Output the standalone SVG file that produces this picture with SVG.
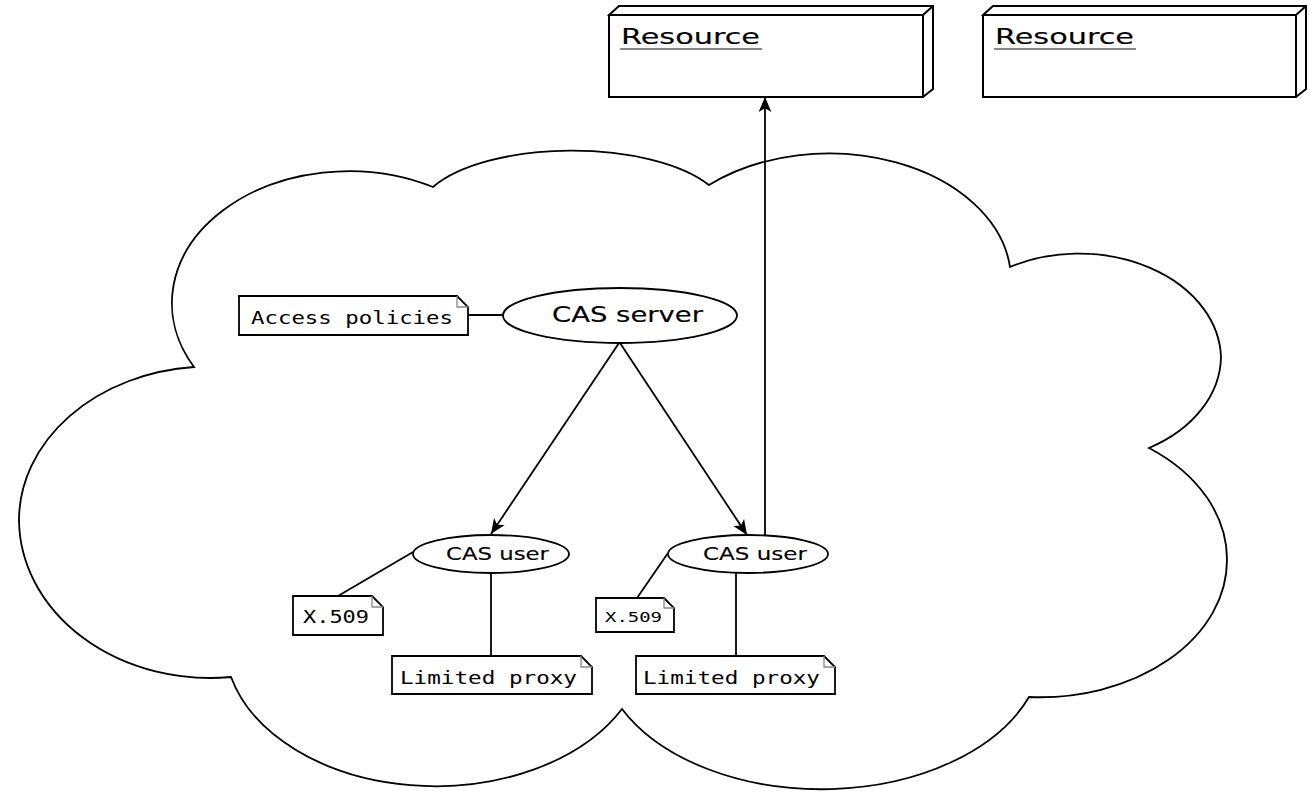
<svg xmlns="http://www.w3.org/2000/svg" width="1310" height="795" viewBox="0 0 1310 795">
<style>
.ln{fill:none;stroke:#000;stroke-width:1.8}
.box{fill:#fff;stroke:#000;stroke-width:2}
.note{fill:#fff;stroke:#000;stroke-width:1.8}
.fold{fill:none;stroke:#888;stroke-width:1.3}
.ell{fill:#fff;stroke:#000;stroke-width:1.8}
.sans{font-family:"DejaVu Sans","Liberation Sans",sans-serif;fill:#000;stroke:#000;stroke-width:0.15}
.mono{font-family:"DejaVu Sans Mono","Liberation Mono",monospace;fill:#000}
.ul{stroke:#888;stroke-width:2}
</style>
<defs>
<marker id="arr" viewBox="0 0 14 12" refX="14" refY="6" markerWidth="15" markerHeight="13" markerUnits="userSpaceOnUse" orient="auto">
<path d="M0,0 L14,6 L0,12 L3.5,6 z" fill="#000"/>
</marker>
</defs>
<rect width="1310" height="795" fill="#fff"/>
<g id="cloud">
<path class="ln" fill="#fff" d="M 194 367 A 177 132 0 0 1 433 187 A 155 65 0 0 1 709 185 A 182 127 0 0 1 1010 267 A 142 106 0 0 1 1221 357 A 142 106 0 0 1 1149 448 A 187 137 0 0 1 1227 560 A 187 137 0 0 1 1029 697 A 222 143 0 0 1 622 709 A 211 145 0 0 1 231 677 A 191 159 0 0 1 19 520 A 191 154 0 0 1 194 367 Z"/>
</g>
<g id="resource1">
<path class="box" d="M609 15 L619 6 L933 6 L933 89 L923 97 Z"/>
<path class="box" fill="none" d="M923 15 L933 6"/>
<rect class="box" x="609" y="15" width="314" height="82"/>
<text class="sans" x="621" y="44" font-size="22" textLength="139" lengthAdjust="spacingAndGlyphs">Resource</text>
<line class="ul" x1="620" y1="49" x2="762" y2="49"/>
</g>
<g id="resource2">
<path class="box" d="M983 15 L993 6 L1306 6 L1306 89 L1296 97 Z"/>
<path class="box" fill="none" d="M1296 15 L1306 6"/>
<rect class="box" x="983" y="15" width="313" height="82"/>
<text class="sans" x="995" y="44" font-size="22" textLength="139" lengthAdjust="spacingAndGlyphs">Resource</text>
<line class="ul" x1="994" y1="49" x2="1136" y2="49"/>
</g>
<g id="connectors">
<line class="ln" x1="468" y1="315" x2="503" y2="315"/>
<line class="ln" x1="619" y1="343" x2="491" y2="534" marker-end="url(#arr)"/>
<line class="ln" x1="620" y1="343" x2="747" y2="535" marker-end="url(#arr)"/>
<line class="ln" x1="765" y1="536" x2="765" y2="97" marker-end="url(#arr)"/>
<line class="ln" x1="338" y1="596" x2="413" y2="552"/>
<line class="ln" x1="491" y1="573" x2="491" y2="656"/>
<line class="ln" x1="637" y1="598" x2="668" y2="553"/>
<line class="ln" x1="736" y1="573" x2="736" y2="656"/>
</g>
<g id="cas-server">
<ellipse class="ell" cx="620" cy="315.5" rx="117" ry="27.5"/>
<text class="sans" x="552" y="322" font-size="21" textLength="151" lengthAdjust="spacingAndGlyphs">CAS server</text>
</g>
<g id="access-policies">
<path class="note" d="M239 296 H457 L468 307 V335 H239 Z"/>
<path class="fold" d="M457 296 V307 H468"/>
<text class="mono" x="251" y="324" font-size="18" textLength="202" lengthAdjust="spacingAndGlyphs">Access policies</text>
</g>
<g id="cas-user-left">
<ellipse class="ell" cx="491" cy="554" rx="78" ry="19"/>
<text class="sans" x="446" y="560" font-size="18" textLength="103" lengthAdjust="spacingAndGlyphs">CAS user</text>
</g>
<g id="cas-user-right">
<ellipse class="ell" cx="748" cy="554" rx="80" ry="19"/>
<text class="sans" x="703" y="560" font-size="18" textLength="104" lengthAdjust="spacingAndGlyphs">CAS user</text>
</g>
<g id="x509-left">
<path class="note" d="M293 596 H372 L383 607 V635 H293 Z"/>
<path class="fold" d="M372 596 V607 H383"/>
<text class="mono" x="303" y="623" font-size="18" textLength="66" lengthAdjust="spacingAndGlyphs">X.509</text>
</g>
<g id="proxy-left">
<path class="note" d="M392 656 H581 L592 667 V694 H392 Z"/>
<path class="fold" d="M581 656 V667 H592"/>
<text class="mono" x="400" y="684" font-size="18" textLength="177" lengthAdjust="spacingAndGlyphs">Limited proxy</text>
</g>
<g id="x509-right">
<path class="note" d="M596 598 H664 L674 608 V632 H596 Z"/>
<path class="fold" d="M664 598 V608 H674"/>
<text class="mono" x="605" y="622" font-size="14" textLength="57" lengthAdjust="spacingAndGlyphs">X.509</text>
</g>
<g id="proxy-right">
<path class="note" d="M636 656 H824 L835 667 V694 H636 Z"/>
<path class="fold" d="M824 656 V667 H835"/>
<text class="mono" x="643" y="684" font-size="18" textLength="177" lengthAdjust="spacingAndGlyphs">Limited proxy</text>
</g>
</svg>
